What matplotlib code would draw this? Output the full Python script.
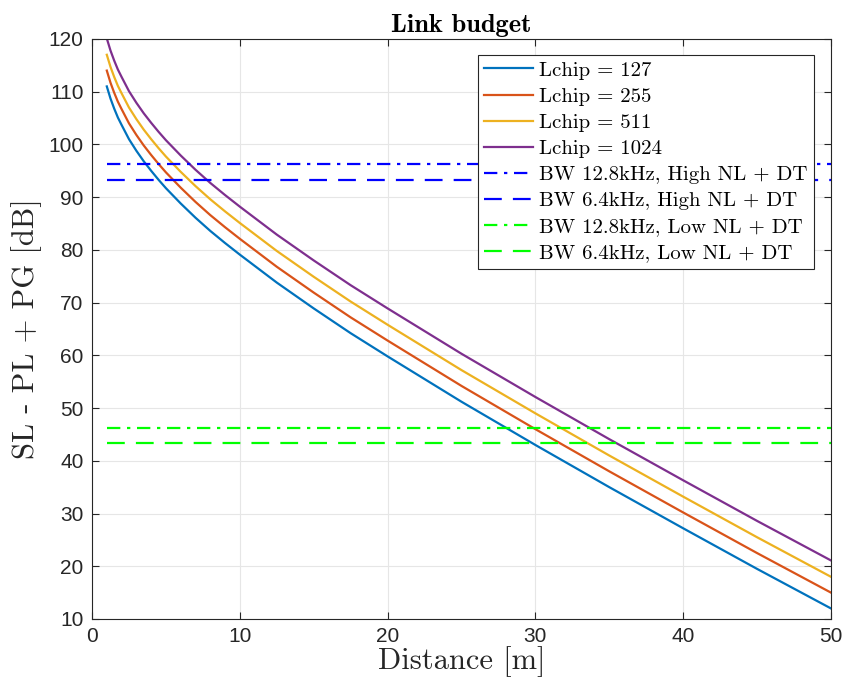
import numpy as np
import matplotlib
matplotlib.use("Agg")
import matplotlib.pyplot as plt

distance = [1, 1.25, 1.5, 1.75, 2, 2.5, 3, 3.5, 4, 4.5, 5, 6, 7, 8, 9, 10, 12.5, 15, 17.5, 20, 25, 30, 35, 40, 45, 50]
lchip_127 = [111.0, 108.7, 106.8, 105.1, 103.7, 101.0, 98.8, 96.8, 95.0, 93.3, 91.7, 88.8, 86.1, 83.6, 81.3, 79.1, 73.8, 68.9, 64.2, 59.8, 51.2, 43.0, 35.0, 27.2, 19.5, 12.0]
lchip_255 = [114.0, 111.7, 109.8, 108.1, 106.7, 104.0, 101.8, 99.8, 98.0, 96.3, 94.7, 91.8, 89.1, 86.6, 84.3, 82.1, 76.8, 71.9, 67.2, 62.8, 54.2, 46.0, 38.0, 30.2, 22.5, 15.0]
lchip_511 = [117.0, 114.7, 112.8, 111.1, 109.7, 107.0, 104.8, 102.8, 101.0, 99.3, 97.7, 94.8, 92.1, 89.6, 87.3, 85.1, 79.8, 74.9, 70.2, 65.8, 57.2, 49.0, 41.0, 33.2, 25.5, 18.0]
lchip_1024 = [120.1, 117.8, 115.9, 114.2, 112.8, 110.1, 107.9, 105.9, 104.1, 102.4, 100.8, 97.9, 95.2, 92.7, 90.4, 88.2, 82.9, 78.0, 73.3, 68.9, 60.3, 52.1, 44.1, 36.3, 28.6, 21.1]
series_labels = ["Lchip = 127", "Lchip = 255", "Lchip = 511", "Lchip = 1024"]

thr_x = [1, 50]
thr_high_128 = 96.3
thr_high_64 = 93.3
thr_low_128 = 46.3
thr_low_64 = 43.3
thr_labels = ["BW 12.8kHz, High NL + DT", "BW 6.4kHz, High NL + DT",
              "BW 12.8kHz, Low NL + DT", "BW 6.4kHz, Low NL + DT"]

xticks = [0, 10, 20, 30, 40, 50]
yticks = [10, 20, 30, 40, 50, 60, 70, 80, 90, 100, 110, 120]

colors = ["#0072BD", "#D95319", "#EDB120", "#7E2F8E"]

fig = plt.figure(figsize=(8.45, 6.87), dpi=100)
ax = fig.add_axes([0.1089, 0.099, 0.8745, 0.8443])

for ys, c, lab in zip([lchip_127, lchip_255, lchip_511, lchip_1024], colors, series_labels):
    ax.plot(distance, ys, color=c, lw=1.6, label=lab)

dashdot = (0, (6, 3, 1.5, 3))
dashed = (0, (8, 5))
ax.plot(thr_x, [thr_high_128] * 2, color=(0, 0, 1), lw=1.6, ls=dashdot, label=thr_labels[0])
ax.plot(thr_x, [thr_high_64] * 2, color=(0, 0, 1), lw=1.6, ls=dashed, label=thr_labels[1])
ax.plot(thr_x, [thr_low_128] * 2, color=(0, 1, 0), lw=1.6, ls=dashdot, label=thr_labels[2])
ax.plot(thr_x, [thr_low_64] * 2, color=(0, 1, 0), lw=1.6, ls=dashed, label=thr_labels[3])

ax.set_xlim(0, 50)
ax.set_ylim(10, 120)
ax.set_xticks(xticks)
ax.set_yticks(yticks)
ax.grid(True, color="#e6e6e6", lw=0.8)
ax.set_axisbelow(True)
ax.tick_params(direction="in", top=True, right=True, length=5, width=0.8,
               labelsize=15, colors="#262626", pad=6)
for lab in ax.get_xticklabels() + ax.get_yticklabels():
    lab.set_family("Liberation Sans")
for s in ax.spines.values():
    s.set_color("#262626")
    s.set_linewidth(0.8)

ax.set_xlabel("Distance [m]", family="cmr10", fontsize=22, color="#262626", labelpad=0)
ax.set_ylabel("SL - PL + PG [dB]", family="cmr10", fontsize=22, color="#262626", labelpad=5)
ax.set_title("Link budget", family="cmb10", fontsize=19, pad=5)

leg = ax.legend(loc="upper right", bbox_to_anchor=(0.977, 0.9725), prop={"family": "cmr10", "size": 15},
                frameon=True, fancybox=False, edgecolor="#262626", framealpha=1,
                handlelength=2.35, handletextpad=0.3, labelspacing=0.36, borderpad=0.3, borderaxespad=0)
leg.get_frame().set_linewidth(0.8)

fig.savefig("out.png", dpi=100)
